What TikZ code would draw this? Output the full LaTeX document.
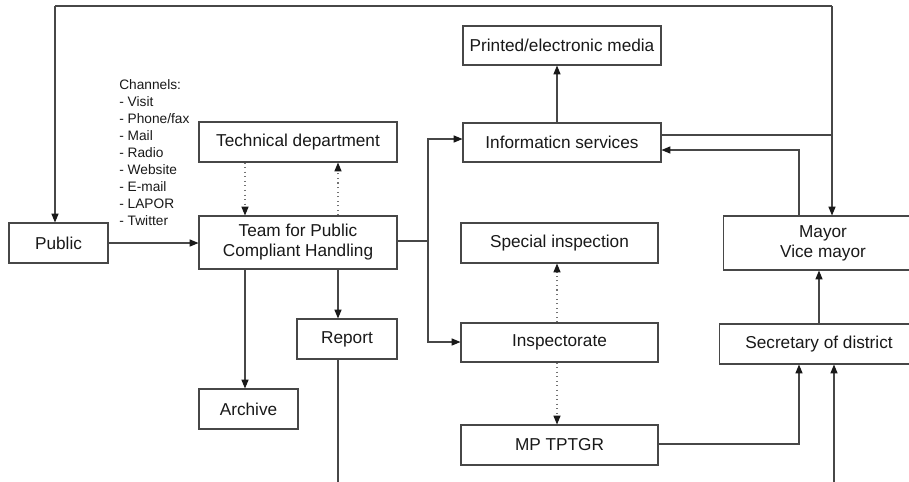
\documentclass[tikz,border=0pt]{standalone}
\usepackage{fontspec}
\setmainfont{Liberation Sans}
\usetikzlibrary{arrows.meta,calc}
\begin{document}
\begin{tikzpicture}[x=0.02cm,y=-0.02cm,
  box/.style={draw=black!72, line width=0.6pt, inner sep=0pt, align=center,
    font=\fontsize{9.8}{11.4}\selectfont, text=black!90},
  conn/.style={draw=black!72, line width=0.6pt,
    -{Triangle[length=5pt,width=4pt,color=black!90]}},
  plainline/.style={draw=black!72, line width=0.6pt},
  dots/.style={conn, dotted, draw=black!55}]
\useasboundingbox (0,0) rectangle (909,481);
\clip (0,0) rectangle (909,481);
\fill[white] (0,0) rectangle (909,481);

% nodes
\node[box, minimum width=1.98cm, minimum height=0.8cm] (public) at (58.5,243) {Public};
\node[box, minimum width=3.96cm, minimum height=0.8cm] (tech) at (298,142) {Technical department};
\node[box, minimum width=3.96cm, minimum height=1.06cm] (team) at (298,242.5) {Team for Public\\Compliant Handling};
\node[box, minimum width=2cm, minimum height=0.8cm] (report) at (347,339) {Report};
\node[box, minimum width=1.98cm, minimum height=0.8cm] (archive) at (248.5,409) {Archive};
\node[box, minimum width=3.96cm, minimum height=0.78cm] (media) at (562,45.5) {Printed/electronic media};
\node[box, minimum width=3.96cm, minimum height=0.78cm] (info) at (562,142.5) {Informaticn services};
\node[box, minimum width=3.94cm, minimum height=0.8cm] (special) at (559.5,243) {Special inspection};
\node[box, minimum width=3.94cm, minimum height=0.78cm] (insp) at (559.5,342.5) {Inspectorate};
\node[box, minimum width=3.94cm, minimum height=0.8cm] (mp) at (559.5,445) {MP TPTGR};
\node[box, minimum width=4cm, minimum height=1.08cm] (mayor) at (823,243) {Mayor\\Vice mayor};
\node[box, minimum width=4cm, minimum height=0.8cm] (sec) at (819,344) {Secretary of district};

\node[anchor=north west, align=left, inner sep=0pt, text=black!90,
  font=\fontsize{7.8}{9.7}\selectfont] (chan) at (119,79)
  {Channels:\\- Visit\\- Phone/fax\\- Mail\\- Radio\\- Website\\- E-mail\\- LAPOR\\- Twitter};

% helper coordinates
\coordinate (xa) at (245,0);
\coordinate (xb) at (338,0);
\coordinate (xc) at (557,0);
\coordinate (xd) at (799,0);
\coordinate (xe) at (819,0);
\coordinate (tl) at (55,6);
\coordinate (tr) at (832,6);
\coordinate (jr) at (832,135);
\coordinate (yhi) at (0,150);
\coordinate (jn) at (428,241);
\coordinate (yi) at (0,139);
\coordinate (ys) at (0,342);
\coordinate (ym) at (0,444);
\coordinate (rb) at (338,490);
\coordinate (bb) at (834,490);

% connectors
\draw[plainline] (tr) -- (tl);
\draw[conn] (tl) -- (tl |- public.north);
\draw[conn] (tr) -- (tr |- mayor.north);
\draw[plainline] (info.east |- jr) -- (jr);
\draw[conn] (mayor.north -| xd) |- (info.east |- yhi);

\draw[conn] (public.east) -- (public.east -| team.west);
\draw[dots] (tech.south -| xa) -- (team.north -| xa);
\draw[dots] (team.north -| xb) -- (tech.south -| xb);
\draw[conn] (team.south -| xa) -- (archive.north -| xa);
\draw[conn] (team.south -| xb) -- (report.north -| xb);
\draw[plainline] (report.south -| xb) -- (rb);

\draw[plainline] (team.east |- jn) -- (jn);
\draw[conn] (jn) -- (jn |- yi) -- (info.west |- yi);
\draw[conn] (jn) -- (jn |- ys) -- (insp.west |- ys);

\draw[conn] (info.north -| xc) -- (media.south -| xc);
\draw[dots] (insp.north -| xc) -- (special.south -| xc);
\draw[dots] (insp.south -| xc) -- (mp.north -| xc);

\draw[conn] (mp.east |- ym) -| (xd |- sec.south);
\draw[conn] (bb) -- (sec.south -| bb);
\draw[conn] (sec.north -| xe) -- (mayor.south -| xe);
\end{tikzpicture}
\end{document}
